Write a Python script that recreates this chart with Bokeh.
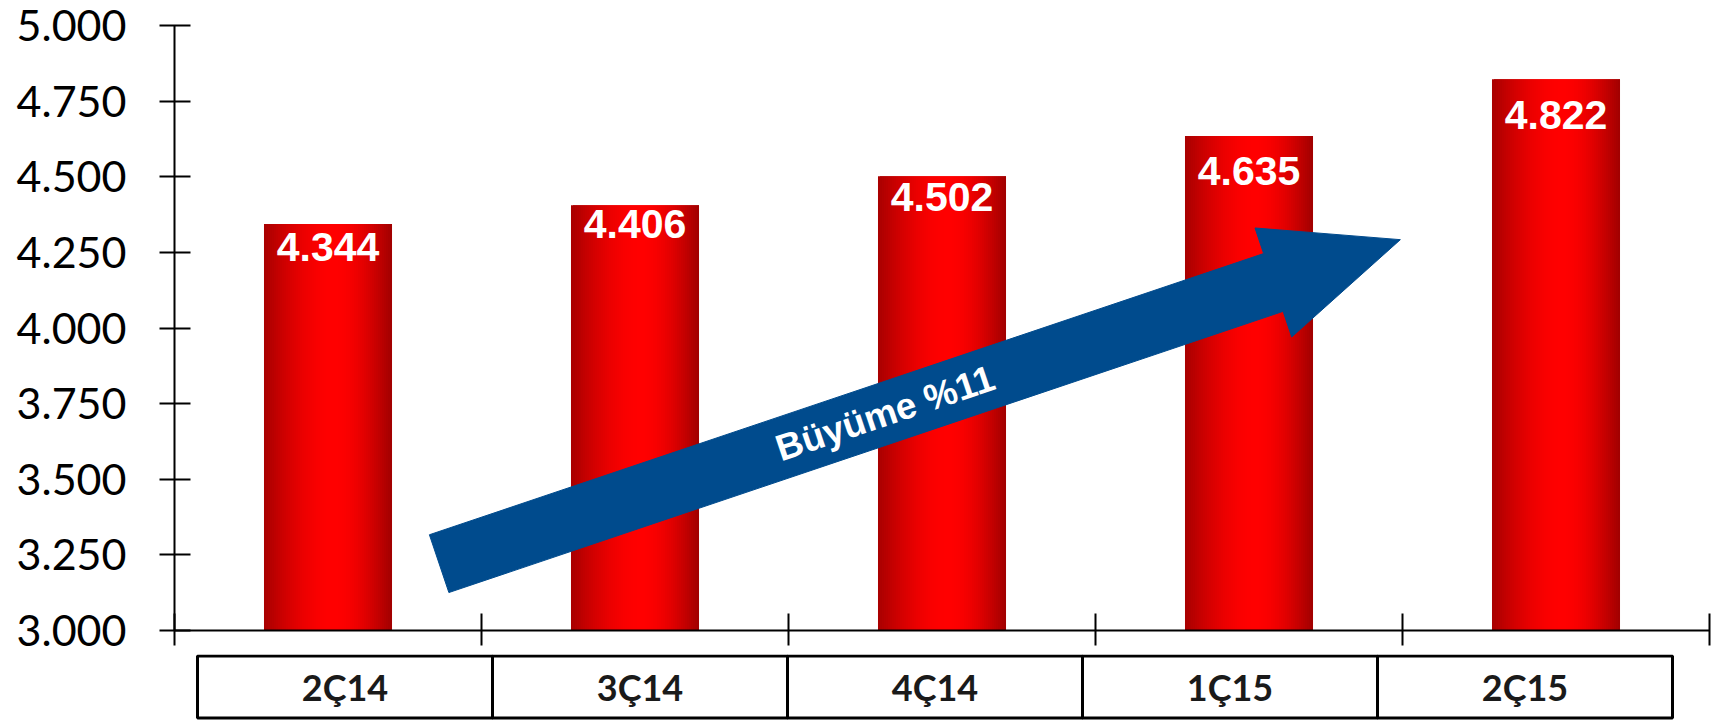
import math
from bokeh.plotting import figure
from bokeh.layouts import column
from bokeh.models import Range1d, FixedTicker, ColumnDataSource
from bokeh.core.properties import value
from bokeh.embed import file_html
from bokeh.resources import INLINE

# ---------------- data ----------------
categories = ["2Ç14", "3Ç14", "4Ç14", "1Ç15", "2Ç15"]
values = [4344, 4406, 4502, 4635, 4822]
value_labels = ["4.344", "4.406", "4.502", "4.635", "4.822"]
y_ticks = [3000, 3250, 3500, 3750, 4000, 4250, 4500, 4750, 5000]
y_tick_labels = ["3.000", "3.250", "3.500", "3.750", "4.000", "4.250", "4.500", "4.750", "5.000"]
arrow_text = "Büyüme %11"
# growth arrow anchors (category position, value)
arrow_tail = (0.862, 3221)
arrow_tip = (3.993, 4292)

# ---------------- layout constants ----------------
W = 1714
LEFT, RIGHT = 174, 5
H1, TOP1, BOT1 = 654, 0, 24
H2 = 66
FRAME_W = W - LEFT - RIGHT
FRAME_H1 = H1 - TOP1 - BOT1
Y0 = 3000
Y1 = 5000 + 25 * 2000 / 605
NCAT = len(categories)
SX = FRAME_W / NCAT            # px per category unit
SY = FRAME_H1 / (Y1 - Y0)      # px per value unit
BAR_W = 0.417
LABEL_OFFSETS = [23, 19, 21, 35, 36]   # px below bar top (label centre)
SHAFT_W, HEAD_W, HEAD_L = 61, 115, 134  # px

p = figure(width=W, height=H1, x_range=Range1d(0, NCAT), y_range=Range1d(Y0, Y1),
           output_backend="svg", toolbar_location=None,
           min_border_left=LEFT, min_border_right=RIGHT,
           min_border_top=TOP1, min_border_bottom=BOT1)
p.outline_line_color = None
p.grid.visible = False
p.background_fill_color = "white"
p.border_fill_color = "white"

# y axis
ya = p.yaxis[0]
ya.ticker = FixedTicker(ticks=y_ticks)
ya.major_label_overrides = {t: l for t, l in zip(y_ticks, y_tick_labels)}
ya.bounds = (y_ticks[0], y_ticks[-1])
ya.axis_line_width = 2
ya.axis_line_color = "black"
ya.major_tick_line_width = 2
ya.major_tick_line_color = "black"
ya.major_tick_in = 16
ya.major_tick_out = 15
ya.minor_tick_line_color = None
ya.major_label_text_font = "Lato"
ya.major_label_text_font_size = "43px"
ya.major_label_text_color = "black"
ya.major_label_standoff = 33

# x axis (ticks at category boundaries, no labels)
xa = p.xaxis[0]
xa.ticker = FixedTicker(ticks=list(range(NCAT + 1)))
xa.major_label_overrides = {i: "" for i in range(NCAT + 1)}
xa.major_label_text_font_size = "0px"
xa.major_label_standoff = 0
xa.axis_line_width = 2
xa.axis_line_color = "black"
xa.major_tick_line_width = 2
xa.major_tick_line_color = "black"
xa.major_tick_in = 17
xa.major_tick_out = 15
xa.minor_tick_line_color = None

# bars with horizontal gradient (drawn as thin overlapping strips)
N = 64
def bar_color(t):
    peak = 0.55
    if t <= peak:
        f = math.sin(0.5 * math.pi * t / peak)
        edge = 168
    else:
        f = math.sin(0.5 * math.pi * (1 - t) / (1 - peak))
        edge = 160
    r = int(round(edge + (255 - edge) * f))
    return "#%02x0000" % r

sl, sr, st, sb, sc = [], [], [], [], []
for i, v in enumerate(values):
    x0 = i + 0.5 - BAR_W / 2
    step = BAR_W / N
    for j in range(N):
        sl.append(x0 + j * step)
        sr.append(min(x0 + (j + 2) * step, x0 + BAR_W))
        st.append(v)
        sb.append(Y0)
        sc.append(bar_color((j + 0.5) / N))
strips = ColumnDataSource(dict(left=sl, right=sr, top=st, bottom=sb, color=sc))
p.quad(left="left", right="right", top="top", bottom="bottom", source=strips,
       fill_color="color", line_color=None)

# value labels
lab = ColumnDataSource(dict(x=[i + 0.5 for i in range(NCAT)], y=values,
                            text=value_labels, dy=LABEL_OFFSETS))
p.text(x="x", y="y", text="text", y_offset="dy", source=lab,
       text_align="center", text_baseline="middle",
       text_font=value("Liberation Sans"), text_font_style="bold",
       text_font_size=value("41px"), text_color="white")

# growth arrow (computed in pixel space, converted back to data)
tx, ty = arrow_tail[0] * SX, (arrow_tail[1] - Y0) * SY
hx, hy = arrow_tip[0] * SX, (arrow_tip[1] - Y0) * SY
L = math.hypot(hx - tx, hy - ty)
dx, dy = (hx - tx) / L, (hy - ty) / L
nx, ny = -dy, dx
bx, by = hx - dx * HEAD_L, hy - dy * HEAD_L
pts = [
    (tx + nx * SHAFT_W / 2, ty + ny * SHAFT_W / 2),
    (bx + nx * SHAFT_W / 2, by + ny * SHAFT_W / 2),
    (bx + nx * HEAD_W / 2, by + ny * HEAD_W / 2),
    (hx, hy),
    (bx - nx * HEAD_W / 2, by - ny * HEAD_W / 2),
    (bx - nx * SHAFT_W / 2, by - ny * SHAFT_W / 2),
    (tx - nx * SHAFT_W / 2, ty - ny * SHAFT_W / 2),
]
p.patch([q[0] / SX for q in pts], [q[1] / SY + Y0 for q in pts],
        fill_color="#004b8d", line_color="#004b8d", line_width=1)
ang = math.atan2(dy, dx)
frac = 0.464
cx, cy = tx + dx * L * frac, ty + dy * L * frac
p.text(x=[cx / SX], y=[cy / SY + Y0], text=[arrow_text], angle=ang,
       text_align="center", text_baseline="middle",
       text_font=value("Liberation Sans"), text_font_style="bold",
       text_font_size=value("37px"), text_color="white")

# ---------------- category boxes ----------------
p2 = figure(width=W, height=H2, x_range=p.x_range, y_range=Range1d(0, 1),
            output_backend="svg", toolbar_location=None,
            x_axis_location=None, y_axis_location=None,
            min_border_left=LEFT, min_border_right=RIGHT,
            min_border_top=0, min_border_bottom=0)
p2.outline_line_color = None
p2.grid.visible = False
p2.background_fill_color = "white"
p2.border_fill_color = "white"
BX0, BX1 = (197 - 174) / 307, (1672 - 174) / 307
cw = (BX1 - BX0) / NCAT
btop = 1 - 1.5 / H2
bbot = 1 - 63.5 / H2
p2.quad(left=[BX0 + i * cw for i in range(NCAT)],
        right=[BX0 + (i + 1) * cw for i in range(NCAT)],
        top=[btop] * NCAT, bottom=[bbot] * NCAT,
        fill_color="white", line_color="black", line_width=3)
p2.text(x=[BX0 + (i + 0.5) * cw for i in range(NCAT)], y=[(btop + bbot) / 2] * NCAT,
        text=categories, text_align="center", text_baseline="middle",
        text_font=value("Lato"), text_font_style="bold",
        text_font_size=value("36px"), text_color="#1a1a1a")

layout = column(p, p2, spacing=0)
open("out.html", "w").write(file_html(layout, INLINE))
